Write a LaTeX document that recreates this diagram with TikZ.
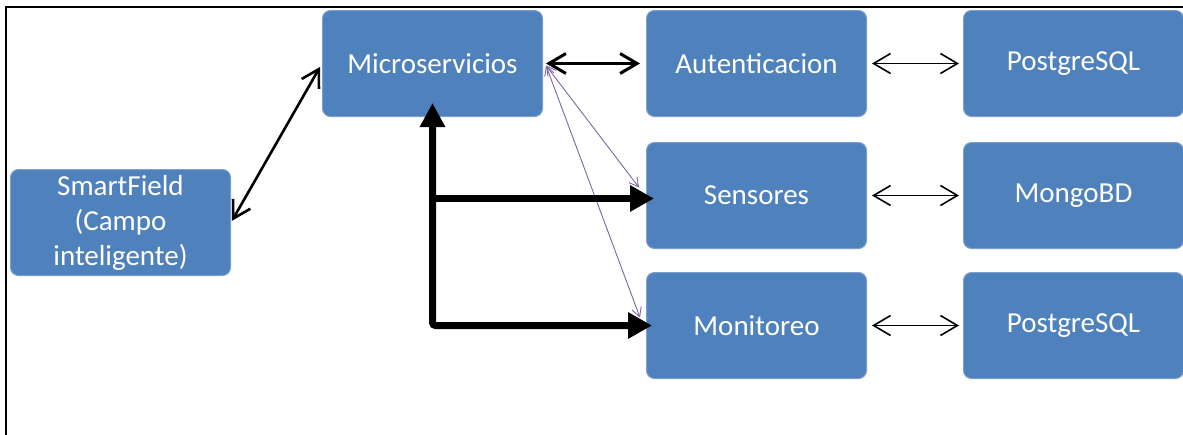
\documentclass[tikz,border=0pt]{standalone}
\usepackage{fontspec}
\setmainfont{Carlito}
\usetikzlibrary{positioning,arrows.meta}
\definecolor{sfBlue}{HTML}{4F81BD}
\definecolor{sfBlueL}{HTML}{7A9FD0}
\definecolor{sfPurple}{HTML}{8064A2}
\tikzset{
  sf-box/.style={
    draw=sfBlueL, line width=1pt, rounded corners=8pt,
    fill=sfBlue, text=white, font=\fontsize{29}{35}\selectfont,
    align=center, inner sep=0pt, minimum width=220pt, minimum height=106pt
  },
  sf-flow/.style={{Straight Barb[length=17pt,width=20pt]}-{Straight Barb[length=17pt,width=20pt]},
    line width=1.6pt, draw=black},
  sf-flow-b/.style={sf-flow, line width=3pt},
  sf-flow-p/.style={{Straight Barb[length=9pt,width=10pt]}-{Straight Barb[length=9pt,width=10pt]},
    line width=0.9pt, draw=sfPurple},
  sf-bus/.style={-{Triangle[length=24pt,width=25pt]}, line width=7pt, draw=black},
  sf-frame/.style={line width=2.2pt, draw=black}
}
\begin{document}
\begin{tikzpicture}[x=1pt, y=-1pt, node distance=25pt and 96pt]
\useasboundingbox (0,0) rectangle (1183,434);
% frame
\draw[sf-frame] (6,440) -- (6,7) -- (1190,7);

% services
\node[sf-box] (micro) at (432.5,63.5) {Microservicios};
\node[sf-box, right=103pt of micro] (auth) {Autenticacion};
\node[sf-box, below=of auth] (sens) {Sensores};
\node[sf-box, below=23pt of sens] (moni) {Monitoreo};

% databases
\node[sf-box, right=of auth] (pgA) {PostgreSQL};
\node[sf-box, right=of sens] (mongo) {MongoBD};
\node[sf-box, right=of moni] (pgB) {PostgreSQL};

% client
\node[sf-box] (smart) at (120.5,222.5) {SmartField\\(Campo\\inteligente)};

\draw[sf-flow, line width=2.6pt, shorten <=2pt, shorten >=4pt] (smart.east) -- (micro.west);
\draw[sf-flow-b, shorten <=3pt, shorten >=6pt] (micro) -- (auth);
\draw[sf-flow, shorten <=5pt, shorten >=4pt] (auth) -- (pgA);
\draw[sf-flow, shorten <=5pt, shorten >=4pt] (sens) -- (mongo);
\draw[sf-flow, shorten <=5pt, shorten >=4pt] (moni) -- (pgB);
\draw[sf-flow-p] ([xshift=3pt, yshift=-2pt]micro.east) -- ([xshift=-7pt, yshift=8pt]sens.west);
\draw[sf-flow-p] ([xshift=3pt, yshift=-2pt]micro.east) -- ([xshift=-6pt, yshift=8pt]moni.west);
\draw[sf-bus, {Triangle[length=24pt,width=24pt]}-{Triangle[length=24pt,width=25pt]}, rounded corners=3pt]
  ([yshift=14pt]micro.south) |- ([xshift=6pt]moni.west);
\draw[sf-bus] ([yshift=-3pt]sens.west -| micro.south) -- ([xshift=8pt, yshift=-3pt]sens.west);
\end{tikzpicture}
\end{document}
